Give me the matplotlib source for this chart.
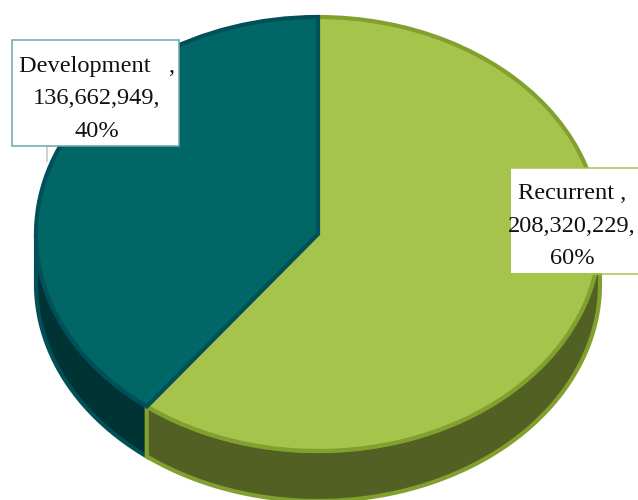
import numpy as np
import matplotlib
matplotlib.use("Agg")
import matplotlib.pyplot as plt
from matplotlib.patches import Rectangle

labels = ["Development", "Recurrent"]
values = [136662949, 208320229]
percents = [40, 60]

top_colors = ["#006666", "#a6c34c"]
edge_colors = ["#00505a", "#82a02e"]
side_colors = ["#003333", "#536023"]

plt.rcParams["font.family"] = ["Liberation Serif", "DejaVu Serif"]

W, H = 638, 500
CX, CY = 318, 234
RX, RY = 282, 217
DEPTH = 50 / RY

fig = plt.figure(figsize=(W / 100, H / 100), dpi=100)

# pie axes: unit circle stretched into an ellipse
ax = fig.add_axes([0, 0, 1, 1])

start = 90
fracs = np.array(values) / sum(values)
ends = start + 360 * np.cumsum(fracs)
starts = ends - 360 * fracs

# side wall of each slice, only the part facing the viewer
# recurrent goes last so its olive edge sits over the dark wall
for a, b, side, edge in zip(starts, ends, side_colors, edge_colors):
    lo, hi = max(a, 180), min(b, 360)
    th = np.radians(np.linspace(lo, hi, 200))
    xs = np.cos(th)
    ys = np.sin(th)
    ax.fill(np.r_[xs, xs[::-1]], np.r_[ys, ys[::-1] - DEPTH],
            facecolor=side, edgecolor=edge, linewidth=3.0, joinstyle="miter", zorder=1)

wedges, _ = ax.pie(values, startangle=start, counterclock=True, radius=1, center=(0, 0),
                   colors=top_colors,
                   wedgeprops={"linewidth": 3.0, "joinstyle": "miter"})
# development on top, its dark edge runs along both radii
for w, edge, z in zip(wedges, edge_colors, [3, 2]):
    w.set_edgecolor(edge)
    w.set_zorder(z)

ax.set_aspect("auto")
ax.set_xlim(-CX / RX, (W - CX) / RX)
ax.set_ylim((CY - H) / RY, CY / RY)
ax.axis("off")

# overlay axes in pixel units for the label boxes
ov = fig.add_axes([0, 0, 1, 1])
ov.set_xlim(0, W)
ov.set_ylim(H, 0)
ov.axis("off")
ov.patch.set_alpha(0)

# leader line under the left box
ov.plot([47, 47], [146, 161], color="#c8c8c8", linewidth=1.2, zorder=3)

ov.add_patch(Rectangle((11.5, 39.5), 167.5, 106.5, facecolor="white",
                       edgecolor="#6ba5a8", linewidth=1.1, zorder=4))
ov.add_patch(Rectangle((511, 168), 130, 105, facecolor="white", edgecolor="none", zorder=4))
ov.plot([511, W], [167.5, 167.5], color="#a6c34c", linewidth=1.1, zorder=5)
ov.plot([511, W], [273.5, 273.5], color="#a6c34c", linewidth=1.1, zorder=5)

text_pos = [(97, 99), (572, 226)]
spacers = ["   ", " "]
for name, v, p, pos, sp in zip(labels, values, percents, text_pos, spacers):
    ov.text(pos[0], pos[1], f"{name}{sp},\n{v:,},\n{p}%", ha="center", va="center",
            fontsize=17.6, linespacing=1.7, color="#111111", zorder=6)

fig.savefig("out.png", dpi=100)
